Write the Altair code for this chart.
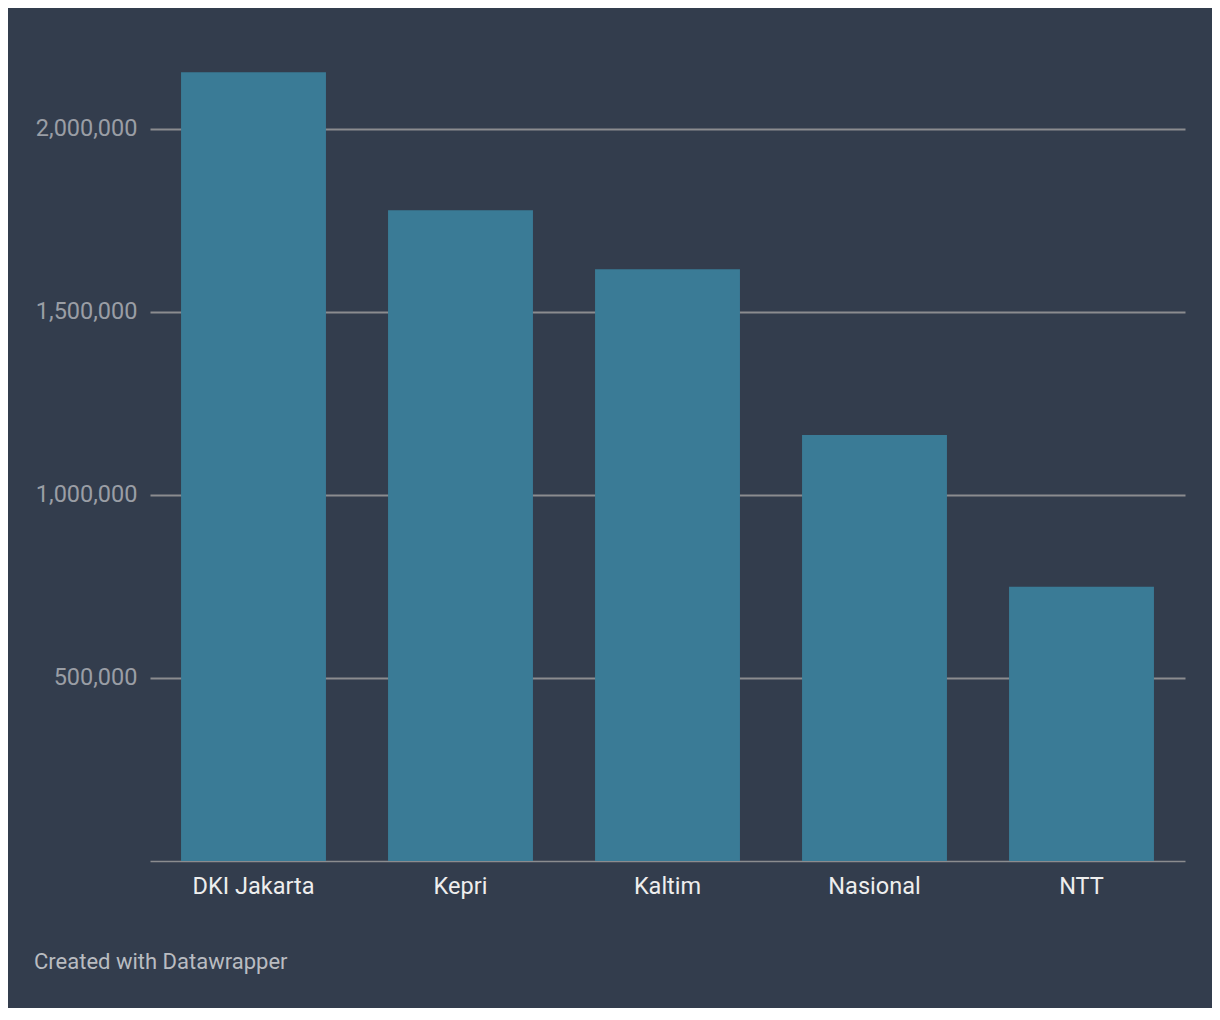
import altair as alt
import pandas as pd

categories = ["DKI Jakarta", "Kepri", "Kaltim", "Nasional", "NTT"]
values = [2155000, 1778000, 1617000, 1164000, 749000]
y_ticks = [500000, 1000000, 1500000, 2000000]
footer = "Created with Datawrapper"

df = pd.DataFrame({"region": categories, "value": values})

BG = "#333d4d"
BAR = "#3a7b96"
GRID = "#8b8c8f"

chart = (
    alt.Chart(df)
    .mark_bar(color=BAR)
    .encode(
        x=alt.X(
            "region:N",
            sort=categories,
            title=None,
            scale=alt.Scale(paddingInner=0.3, paddingOuter=0.15),
            axis=alt.Axis(
                labelAngle=0,
                ticks=False,
                tickSize=0,
                labelPadding=13,
                labelFont="Roboto",
                labelFontSize=23.5,
                labelColor="#eeeeee",
                domain=True,
                domainColor=GRID,
                domainWidth=1.6,
                grid=False,
            ),
        ),
        y=alt.Y(
            "value:Q",
            title=None,
            scale=alt.Scale(domain=[0, 2155700], nice=False, zero=True),
            axis=alt.Axis(
                values=y_ticks,
                format=",d",
                ticks=False,
                tickSize=0,
                domain=False,
                labelPadding=13,
                labelFont="Roboto",
                labelFontSize=23.5,
                labelColor="#9a9ea5",
                grid=True,
                gridColor=GRID,
                gridWidth=1.8,
            ),
        ),
    )
    .properties(
        width=1035,
        height=789,
        autosize=alt.AutoSizeParams(type="none"),
        padding={"left": 142, "top": 64, "right": 27, "bottom": 147},
        background=BG,
        title=alt.TitleParams(
            footer,
            orient="bottom",
            anchor="start",
            frame="group",
            dx=-116,
            offset=54,
            font="Roboto",
            fontSize=22,
            fontWeight="normal",
            color="#b9bcc1",
        ),
    )
    .configure_view(strokeWidth=0)
)

chart.save("out.html", embed_options={"renderer": "svg", "actions": False})
